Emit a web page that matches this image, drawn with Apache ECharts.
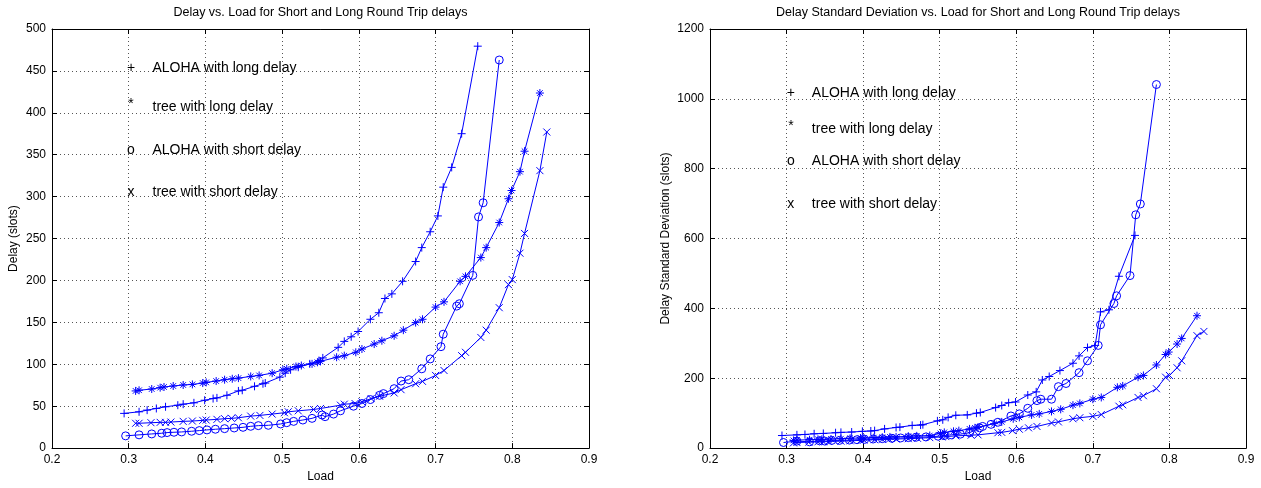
<!DOCTYPE html>
<html>
<head>
<meta charset="utf-8">
<script src="https://cdn.jsdelivr.net/npm/echarts@6/dist/echarts.min.js"></script>
<style>
html,body{margin:0;padding:0;background:#fff;}
#c{width:1261px;height:488px;}
</style>
</head>
<body>
<div id="c"></div>
<script>
// ---- data ----
const loadAlohaLong = [0.294,0.3135,0.324,0.336,0.348,0.364,0.371,0.385,0.399,0.410,0.415,0.428,0.443,0.448,0.464,0.475,0.478,0.497,0.504,0.511,0.521,0.536,0.548,0.553,0.573,0.581,0.590,0.599,0.615,0.626,0.634,0.643,0.657,0.674,0.682,0.693,0.703,0.710,0.721,0.734,0.755];
const delayAlohaLong = [41.4,43.3,45.3,47.3,49.3,51.2,52.4,54.0,57.1,59.1,59.9,63.0,68.2,69.0,73.7,76.8,77.6,84.7,89.4,93.4,96.5,100.5,104.4,107.6,120.2,127.3,132.8,139.1,153.7,161.5,178.5,184.0,199.0,222.6,239.2,258.1,277.0,311.3,334.9,375.1,479.5];
const sdAlohaLong = [36,38,39,41,42,44,45,46,48,49,50,55,59,60,65,66,67,78,81,88,94,95,100,102,116,122,130,132,152,161,195,205,222,243,264,288,294,390,396,492,609];

const loadAlohaShort = [0.296,0.3135,0.330,0.343,0.350,0.359,0.369,0.382,0.392,0.402,0.413,0.425,0.4375,0.449,0.459,0.469,0.482,0.498,0.506,0.515,0.527,0.539,0.552,0.556,0.567,0.576,0.593,0.604,0.615,0.627,0.632,0.646,0.655,0.665,0.682,0.693,0.707,0.710,0.7275,0.731,0.7485,0.756,0.762,0.783];
const delayAlohaShort = [14.6,15.8,16.9,17.7,18.5,18.9,19.3,20.1,20.9,21.7,22.5,23.2,24.0,24.8,26.0,26.8,27.2,28.8,30.3,31.9,33.5,35.5,39.5,37.5,40.6,44.5,50.0,53.2,57.9,63.0,65.0,70.9,80.0,81.6,94.6,106.4,121.0,135.9,169.4,172.2,206.1,275.8,292.7,463.0];
const sdAlohaShort = [16,20,18,21,20,22,22,23,24,25,26,27,28,29,30,31,32,34,36,38,40,44,58,62,68,74,92,98,114,136,140,140,176,185,216,250,294,353,414,436,494,668,699,1041];

const loadTreeLong = [0.309,0.3135,0.330,0.341,0.346,0.358,0.371,0.383,0.3965,0.401,0.414,0.425,0.435,0.443,0.459,0.470,0.487,0.501,0.506,0.518,0.525,0.539,0.546,0.550,0.571,0.581,0.596,0.604,0.620,0.630,0.646,0.658,0.674,0.683,0.700,0.711,0.732,0.739,0.759,0.766,0.783,0.795,0.799,0.810,0.816,0.836];
const delayTreeLong = [68.2,69.0,70.5,72.1,72.9,74.1,75.3,76.0,77.6,78.4,80.0,81.6,82.7,83.5,85.5,86.7,89.4,93.4,94.6,97.3,98.5,100.5,102.4,103.5,108.4,110.3,114.3,118.2,124.1,128.1,134.0,140.7,149.7,153.7,168.2,174.5,199.0,204.9,227.3,239.2,269.1,297.5,307.3,329.8,354.2,423.6];
const sdTreeLong = [22,23,24,25,25,26,27,28,29,29,30,31,32,32,34,35,36,42,45,48,50,55,58,60,70,75,84,88,95,98,105,111,123,128,140,145,174,178,203,208,238,268,275,298,314,379];

const loadTreeShort = [0.309,0.3135,0.329,0.341,0.348,0.355,0.371,0.383,0.3965,0.401,0.415,0.425,0.434,0.443,0.459,0.471,0.487,0.503,0.508,0.521,0.541,0.550,0.576,0.581,0.595,0.604,0.616,0.627,0.646,0.655,0.674,0.683,0.700,0.711,0.734,0.739,0.759,0.766,0.783,0.795,0.800,0.810,0.816,0.836,0.845];
const delayTreeShort = [29.6,29.6,30.3,30.7,30.7,31.1,31.9,32.3,33.1,33.5,34.3,35.1,35.5,36.2,38.2,39.0,40.6,42.2,43.3,44.5,46.1,47.3,51.2,52.4,53.2,55.2,59.1,61.9,65.8,69.7,76.8,79.6,86.7,92.6,110.3,114.3,132.0,140.7,167.5,195.0,201.0,232.5,256.1,331.0,377.1];
const sdTreeShort = [15,16,17,18,18,19,20,21,22,23,24,25,25,26,27,28,30,32,33,35,37,38,44,45,50,54,58,62,72,75,84,87,91,96,120,124,145,150,170,203,208,230,250,322,334];

const seriesNames = ['ALOHA with long delay','tree with long delay','ALOHA with short delay','tree with short delay'];
const legendGlyphs = ['+','*','o','x'];
const titleLeft = 'Delay vs. Load for Short and Long Round Trip delays';
const titleRight = 'Delay Standard Deviation vs. Load for Short and Long Round Trip delays';
const xName = 'Load';
const yNameLeft = 'Delay (slots)';
const yNameRight = 'Delay Standard Deviation (slots)';

// ---- styling ----
const BLUE = '#0000ff';
const FONT = '"Liberation Sans", Arial, Helvetica, sans-serif';
const SYM = {
  '+': 'path://M0,5L10,5M5,0L5,10',
  'x': 'path://M0,0L10,10M10,0L0,10',
  '*': 'path://M0,5L10,5M5,0L5,10M1.5,1.5L8.5,8.5M8.5,1.5L1.5,8.5',
  'o': 'path://M10,5A5,5,0,1,1,0,5A5,5,0,1,1,10,5Z'
};
const SYMSIZE = {'+': 8, 'x': 7, '*': 8, 'o': 8};

function zip(xs, ys){ const n=Math.min(xs.length, ys.length); const r=[]; for(let i=0;i<n;i++) r.push([xs[i], ys[i]]); return r; }

const G = [
  {left:52, top:29, width:537, height:422},
  {left:710, top:29, width:536, height:422}
];

function xAxes(gi){
  const base = {gridIndex:gi, type:'value', min:0.2, max:0.9, interval:0.1};
  return [
    Object.assign({}, base, {position:'bottom', name:xName, nameLocation:'middle', nameGap:21,
      nameTextStyle:{fontFamily:FONT, fontSize:12, color:'#000'},
      axisLine:{show:true, onZero:false, lineStyle:{color:'#000', width:1}},
      axisTick:{show:true, inside:true, length:5, lineStyle:{color:'#000'}},
      axisLabel:{show:true, margin:6, fontFamily:FONT, fontSize:12, color:'#000', formatter:v=>v.toFixed(1)},
      splitLine:{show:true, lineStyle:{color:'#555', type:[1,3], width:1}}}),
    Object.assign({}, base, {position:'top',
      axisLine:{show:true, onZero:false, lineStyle:{color:'#000', width:1}},
      axisTick:{show:true, inside:true, length:5, lineStyle:{color:'#000'}},
      axisLabel:{show:false}, splitLine:{show:false}})
  ];
}
function yAxes(gi, max, interval, name, gap){
  const base = {gridIndex:gi, type:'value', min:0, max:max, interval:interval};
  return [
    Object.assign({}, base, {position:'left', name:name, nameLocation:'middle', nameGap:gap,
      nameTextStyle:{fontFamily:FONT, fontSize:12, color:'#000'},
      axisLine:{show:true, onZero:false, lineStyle:{color:'#000', width:1}},
      axisTick:{show:true, inside:true, length:5, lineStyle:{color:'#000'}},
      axisLabel:{show:true, margin:6, fontFamily:FONT, fontSize:12, color:'#000', formatter:v=>String(v)},
      splitLine:{show:true, lineStyle:{color:'#555', type:[1,3], width:1}}}),
    Object.assign({}, base, {position:'right',
      axisLine:{show:true, onZero:false, lineStyle:{color:'#000', width:1}},
      axisTick:{show:true, inside:true, length:5, lineStyle:{color:'#000'}},
      axisLabel:{show:false}, splitLine:{show:false}})
  ];
}

function mkSeries(name, glyph, data, axisIdx){
  return {
    type:'line', name:name, xAxisIndex:axisIdx, yAxisIndex:axisIdx, data:data,
    symbol:SYM[glyph], symbolSize:SYMSIZE[glyph], showAllSymbol:true, symbolKeepAspect:true,
    lineStyle:{color:BLUE, width:1},
    itemStyle:{color:glyph==='o' ? 'rgba(0,0,0,0)' : BLUE, borderColor:BLUE, borderWidth:1},
    emphasis:{disabled:true}, silent:true, z:2
  };
}

const chart = echarts.init(document.getElementById('c'), null, {renderer:'canvas'});
const option = {
  animation:false,
  backgroundColor:'#fff',
  grid: G,
  xAxis: [...xAxes(0), ...xAxes(1)],
  yAxis: [...yAxes(0, 500, 50, yNameLeft, 32), ...yAxes(1, 1200, 200, yNameRight, 38)],
  series: [
    mkSeries(seriesNames[0], '+', zip(loadAlohaLong, delayAlohaLong), 0),
    mkSeries(seriesNames[1], '*', zip(loadTreeLong, delayTreeLong), 0),
    mkSeries(seriesNames[2], 'o', zip(loadAlohaShort, delayAlohaShort), 0),
    mkSeries(seriesNames[3], 'x', zip(loadTreeShort, delayTreeShort), 0),
    mkSeries(seriesNames[0], '+', zip(loadAlohaLong, sdAlohaLong), 2),
    mkSeries(seriesNames[1], '*', zip(loadTreeLong, sdTreeLong), 2),
    mkSeries(seriesNames[2], 'o', zip(loadAlohaShort, sdAlohaShort), 2),
    mkSeries(seriesNames[3], 'x', zip(loadTreeShort, sdTreeShort), 2)
  ]
};
chart.setOption(option);

// titles and in-plot text labels (MATLAB text() style legends), placed via axis coordinates
const graphics = [];
G.forEach((g, i) => {
  graphics.push({type:'text', x:g.left + g.width/2, y:13,
    style:{text:i===0?titleLeft:titleRight, font:'12.5px ' + FONT, fill:'#000', textAlign:'center', textVerticalAlign:'middle'}});
});
const legendY = [[453, 407, 356, 305], [1016, 914, 822, 699]];
const glyphX = [0.303, 0.3056];
const textX = [0.331, 0.333];
for (let gi = 0; gi < 2; gi++) {
  for (let k = 0; k < 4; k++) {
    const pg = chart.convertToPixel({gridIndex:gi}, [glyphX[gi], legendY[gi][k]]);
    const pt = chart.convertToPixel({gridIndex:gi}, [textX[gi], legendY[gi][k]]);
    graphics.push({type:'text', x:pg[0], y:pg[1] + (legendGlyphs[k]==='*' ? -3 : 0),
      style:{text:legendGlyphs[k], font:'14px ' + FONT, fill:'#000', textAlign:'center', textVerticalAlign:'middle'}});
    graphics.push({type:'text', x:pt[0], y:pt[1],
      style:{text:seriesNames[k], font:'14px ' + FONT, fill:'#000', textAlign:'left', textVerticalAlign:'middle'}});
  }
}
chart.setOption({graphic:graphics});
</script>
</body>
</html>
